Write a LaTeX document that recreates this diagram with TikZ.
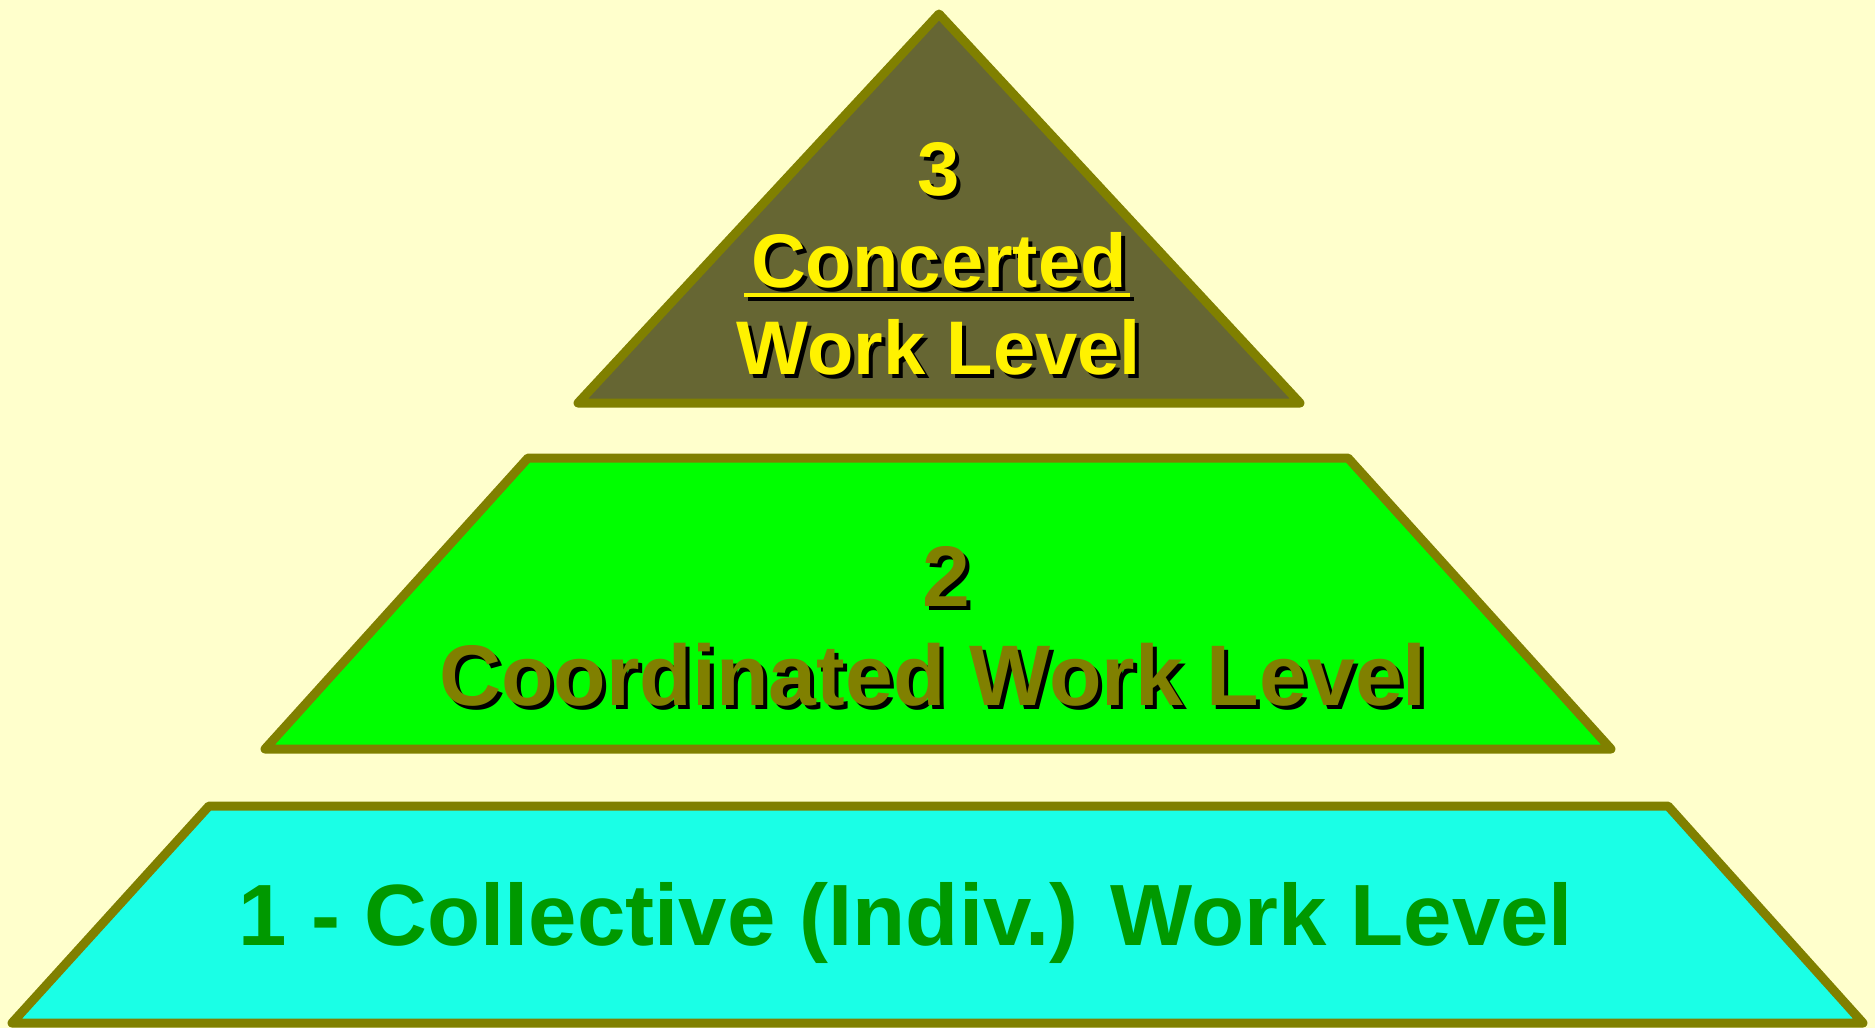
\documentclass[tikz,border=0pt]{standalone}
\usepackage{fontspec}
\setmainfont{Liberation Sans}

\definecolor{bgyellow}{HTML}{FFFFCC}
\definecolor{edgeolive}{HTML}{808000}
\definecolor{topfill}{HTML}{666633}
\definecolor{midfill}{HTML}{00FF00}
\definecolor{basefill}{HTML}{1AFFE6}
\definecolor{basetext}{HTML}{009900}

\begin{document}
\begin{tikzpicture}[x=1pt, y=-1pt,
    levelshape/.style={draw=edgeolive, line width=9pt, line join=round},
    leveltext/.style={inner sep=0pt, anchor=base, font=\bfseries\fontsize{#1}{#1}\selectfont},
    leveltext/.default=76]
  \def\off{4}
  \fill[bgyellow] (0,0) rectangle (1875,1028);

  % the three levels, top to bottom
  \draw[levelshape, fill=topfill] (939,14) -- (1300,403) -- (578,403) -- cycle;
  \draw[levelshape, fill=midfill] (528,458) -- (1348,458) -- (1611,749) -- (265,749) -- cycle;
  \draw[levelshape, fill=basefill] (209,806) -- (1668,806) -- (1863,1023) -- (12,1023) -- cycle;

  % level 3: yellow with a black shadow
  \foreach \d/\c in {\off/black, 0/yellow} {
    \node[leveltext, text=\c] (three) at (939+\d, 195+\d) {3};
    \node[leveltext, text=\c] (concerted) at (939+\d, 287+\d) {Concerted};
    \node[leveltext, text=\c] (worktop) at (939+\d, 374+\d) {Work Level};
    \draw[\c, line width=3.5pt] (744+\d, 295+\d) -- (1130+\d, 295+\d);
  }

  % level 2: olive with a black shadow
  \foreach \d/\c in {\off/black, 0/edgeolive} {
    \node[leveltext=86, text=\c] (two) at (946+\d, 606+\d) {2};
    \node[leveltext=86, text=\c] (coordinated) at (933+\d, 705+\d) {Coordinated Work Level};
  }

  % level 1
  \node[leveltext=87, text=basetext] (collective) at (906, 945) {1 - Collective (Indiv.) Work Level};
\end{tikzpicture}
\end{document}
